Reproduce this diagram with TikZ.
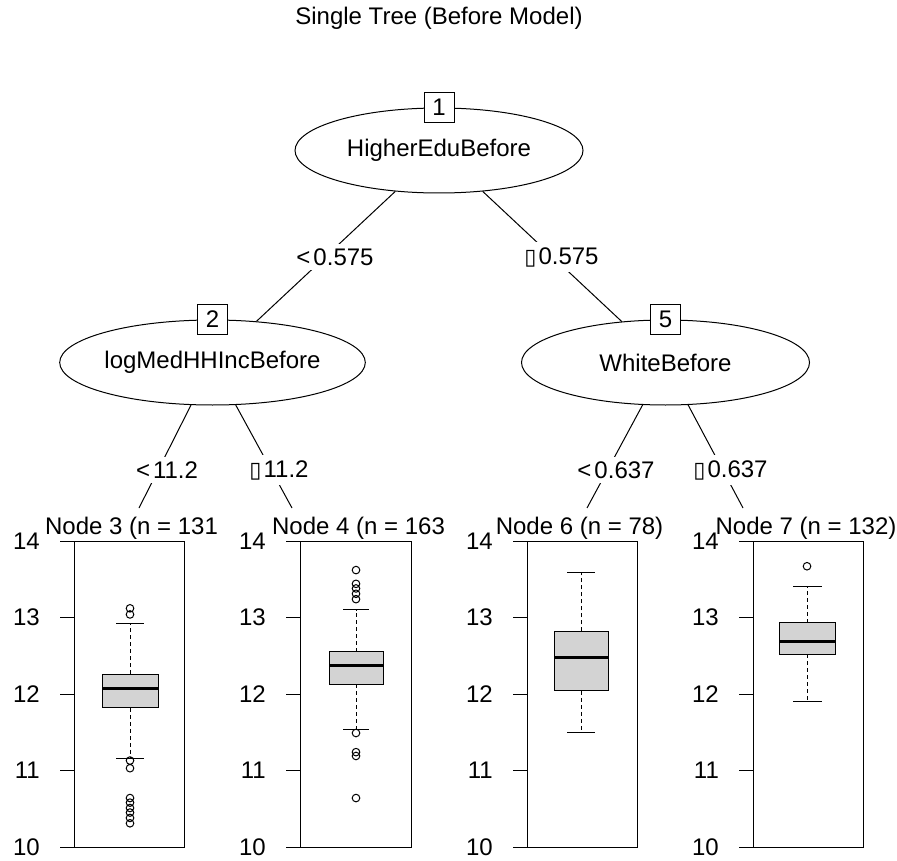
\documentclass[tikz,border=0pt]{standalone}
\usepackage{fontspec}
\setmainfont{Liberation Sans}
\newfontfamily\symfont{DejaVu Sans}
\usetikzlibrary{shapes.geometric}
\definecolor{boxgray}{RGB}{211,211,211}
\newcommand{\tofu}{{\symfont\fontsize{11}{11}\selectfont ▯}\hspace{1pt}}
\newcommand{\lessop}{<\hspace{1.5pt}}
\tikzset{
  split/.style={ellipse, draw, fill=white, minimum width=144pt, minimum height=42.5pt, inner sep=0pt},
  idbox/.style={draw, fill=white, minimum size=15pt, inner sep=0pt},
  edgelab/.style={fill=white, inner xsep=1pt, inner ysep=2.5pt},
  whisk/.style={dash pattern=on 2pt off 1.5pt},
  medline/.style={line width=1.5pt},
  outl/.style={line width=0.5pt}
}

\begin{document}
\begin{tikzpicture}[x=0.5pt, y=-0.5pt, line width=0.5pt, font=\fontsize{12}{14}\selectfont]
 \useasboundingbox (0,0) rectangle (897,860);
 \node (title) at (439,18) {Single Tree (Before Model)};

 \node[split] (n1) at (439,150.5) {HigherEduBefore};
 \node[split] (n2) at (212.5,362.5) {logMedHHIncBefore};
 \node[split] (n5) at (665.5,362.5) {WhiteBefore};

 \coordinate (e3) at (139,508);
 \coordinate (e4) at (292,508);
 \coordinate (e6) at (587,508);
 \coordinate (e7) at (743,508);

 \draw (n1) -- (n2);
 \draw (n1) -- (n5);
 \draw (n2) -- (e3);
 \draw (n2) -- (e4);
 \draw (n5) -- (e6);
 \draw (n5) -- (e7);

 \node[idbox] (id1) at (n1.north) {1};
 \node[idbox] (id2) at (n2.north) {2};
 \node[idbox] (id5) at (n5.north) {5};

 \node[edgelab] (l12) at (335,257) {\lessop0.575};
 \node[edgelab] (l15) at (561.5,257) {\tofu0.575};
 \node[edgelab] (l23) at (167,470) {\lessop11.2};
 \node[edgelab] (l24) at (279,470) {\tofu11.2};
 \node[edgelab] (l56) at (616,470) {\lessop0.637};
 \node[edgelab] (l57) at (730.5,470) {\tofu0.637};

 \node[anchor=west] (t3) at (38,528) {Node 3 (n = 131};
 \node[anchor=west] (t4) at (265,528) {Node 4 (n = 163};
 \node (t6) at (579.5,528) {Node 6 (n = 78)};
 \node (t7) at (806,528) {Node 7 (n = 132)};

 \begin{scope}[shift={(0,1612)}, y=38.25pt]
  \draw (74,10) rectangle (184,14);
  \draw (300,10) rectangle (411,14);
  \draw (527,10) rectangle (637,14);
  \draw (753,10) rectangle (863,14);
  \foreach \p in {74,300,527,753} {
   \foreach \v in {10,...,14} {
    \draw (\p,\v) -- (\p-14,\v);
    \node[anchor=east] (tk\p-\v) at (\p-27,\v) {\v};
   }
  }

  \draw[whisk] (130,12.26) -- (130,12.92) (130,11.82) -- (130,11.16);
  \draw (116,12.92) -- (144,12.92) (116,11.16) -- (144,11.16);
  \draw[fill=boxgray] (102,11.82) rectangle (158,12.26);
  \draw[medline] (102,12.07) -- (158,12.07);
  \draw[outl] (130,13.12) circle (1.9pt) (130,13.04) circle (1.9pt)
   (130,11.13) circle (1.9pt) (130,11.03) circle (1.9pt)
   (130,10.64) circle (1.9pt) (130,10.58) circle (1.9pt) (130,10.51) circle (1.9pt)
   (130,10.45) circle (1.9pt) (130,10.38) circle (1.9pt) (130,10.31) circle (1.9pt);

  \draw[whisk] (356,12.55) -- (356,13.10) (356,12.13) -- (356,11.53);
  \draw (343,13.10) -- (369,13.10) (343,11.53) -- (369,11.53);
  \draw[fill=boxgray] (329,12.13) rectangle (383,12.55);
  \draw[medline] (329,12.37) -- (383,12.37);
  \draw[outl] (356,13.62) circle (1.9pt) (356,13.44) circle (1.9pt) (356,13.38) circle (1.9pt)
   (356,13.31) circle (1.9pt) (356,13.24) circle (1.9pt)
   (356,11.49) circle (1.9pt) (356,11.24) circle (1.9pt) (356,11.19) circle (1.9pt)
   (356,10.64) circle (1.9pt);

  \draw[whisk] (581,12.82) -- (581,13.59) (581,12.04) -- (581,11.50);
  \draw (567,13.59) -- (595,13.59) (567,11.50) -- (595,11.50);
  \draw[fill=boxgray] (554,12.04) rectangle (608,12.82);
  \draw[medline] (554,12.48) -- (608,12.48);

  \draw[whisk] (807,12.93) -- (807,13.41) (807,12.52) -- (807,11.90);
  \draw (793,13.41) -- (822,13.41) (793,11.90) -- (822,11.90);
  \draw[fill=boxgray] (779,12.52) rectangle (835,12.93);
  \draw[medline] (779,12.69) -- (835,12.69);
  \draw[outl] (807,13.67) circle (1.9pt);
 \end{scope}
\end{tikzpicture}
\end{document}
